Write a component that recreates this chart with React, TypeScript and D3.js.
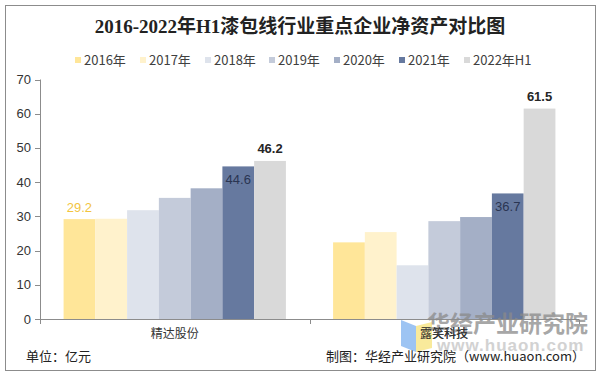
import React from "react";
import * as d3 from "d3";

const categories = ["精达股份", "露笑科技"];
const seriesNames = ["2016年", "2017年", "2018年", "2019年", "2020年", "2021年", "2022年H1"];
const jingda = [29.2, 29.3, 31.8, 35.4, 38.2, 44.6, 46.2];
const luxiao = [22.4, 25.4, 15.7, 28.6, 29.8, 36.7, 61.5];
const colors = ["#FFE699", "#FFF2CC", "#DEE3EC", "#C4CBDA", "#A4AFC6", "#66799F", "#D9D9D9"];
const yTicks = [0, 10, 20, 30, 40, 50, 60, 70];

// labels: [category index, series index, style]
const labels: [number, number, string][] = [
  [0, 0, "above-yellow"],
  [0, 5, "inside"],
  [0, 6, "above-bold"],
  [1, 5, "inside"],
  [1, 6, "above-bold"],
];

const W = 601;
const H = 375;
const sans = "'Liberation Sans', Arial, 'Noto Sans CJK SC', sans-serif";
const cjk = "'Noto Sans CJK SC', 'Liberation Sans', sans-serif";

export default function App() {
  const values = [jingda, luxiao];
  const x0 = d3
    .scaleBand<string>()
    .domain(categories)
    .range([40, 579])
    .paddingInner(0.175)
    .paddingOuter(0.0875);
  const x1 = d3.scaleBand<string>().domain(seriesNames).range([0, x0.bandwidth()]);
  const y = d3.scaleLinear().domain([0, 70]).range([319, 79.5]);

  const legendX = [78, 143, 208, 272, 337, 402, 467];

  return (
    <svg width={W} height={H} style={{ position: "absolute", left: 0, top: 0, background: "#fff" }}>
      <rect x={5.5} y={5.5} width={590} height={365} fill="#fff" stroke="#8c8c8c" strokeWidth={1} />
      <text
        x={300}
        y={33}
        textAnchor="middle"
        fontFamily="'Liberation Serif', 'Noto Sans CJK SC', serif"
        fontWeight="bold"
        fontSize={19}
        fill="#222"
      >
        2016-2022年H1漆包线行业重点企业净资产对比图
      </text>

      {seriesNames.map((s, i) => (
        <g key={s}>
          <rect x={legendX[i] - 3} y={57} width={6} height={6} fill={colors[i]} />
          <text x={legendX[i] + 6} y={65} fontFamily={cjk} fontSize={13} fill="#404040">
            {s}
          </text>
        </g>
      ))}

      {/* y axis */}
      <line x1={40.5} x2={40.5} y1={y(70)} y2={y(0)} stroke="#8c8c8c" />
      {yTicks.map((t) => (
        <g key={t}>
          <line x1={35} x2={40.5} y1={Math.round(y(t)) + 0.5} y2={Math.round(y(t)) + 0.5} stroke="#8c8c8c" />
          <text
            x={31}
            y={y(t) + 4.5}
            textAnchor="end"
            fontFamily={sans}
            fontSize={13}
            fill="#333"
          >
            {t}
          </text>
        </g>
      ))}

      {/* bars */}
      {categories.map((c, ci) => (
        <g key={c} transform={`translate(${x0(c)},0)`}>
          {values[ci].map((v, si) => (
            <rect
              key={si}
              x={x1(seriesNames[si])}
              y={y(v)}
              width={x1.bandwidth()}
              height={y(0) - y(v)}
              fill={colors[si]}
            />
          ))}
        </g>
      ))}

      {/* x axis */}
      <line x1={40} x2={579} y1={319.5} y2={319.5} stroke="#8c8c8c" />
      {[40, 309.5, 579].map((t, i) => (
        <line key={i} x1={Math.round(t) + 0.5} x2={Math.round(t) + 0.5} y1={319.5} y2={324} stroke="#8c8c8c" />
      ))}
      {categories.map((c) => (
        <text
          key={c}
          x={(x0(c) as number) + x0.bandwidth() / 2}
          y={338}
          textAnchor="middle"
          fontFamily={cjk}
          fontSize={12}
          fill="#333"
        >
          {c}
        </text>
      ))}

      {/* data labels */}
      {labels.map(([ci, si, style], k) => {
        const v = values[ci][si];
        const cx = (x0(categories[ci]) as number) + (x1(seriesNames[si]) as number) + x1.bandwidth() / 2;
        if (style === "inside") {
          return (
            <text key={k} x={cx} y={y(v) + 18} textAnchor="middle" fontFamily={sans} fontSize={13} fill="#2A3552">
              {v.toFixed(1)}
            </text>
          );
        }
        if (style === "above-yellow") {
          return (
            <text key={k} x={cx} y={y(v) - 7} textAnchor="middle" fontFamily={sans} fontSize={13} fill="#F2C43F">
              {v.toFixed(1)}
            </text>
          );
        }
        return (
          <text
            key={k}
            x={cx}
            y={y(v) - 8}
            textAnchor="middle"
            fontFamily={sans}
            fontSize={13}
            fontWeight="bold"
            fill="#262626"
          >
            {v.toFixed(1)}
          </text>
        );
      })}

      {/* watermark */}
      <g opacity={0.75}>
        <polygon points="401,320 416,326 416,352 401,346" fill="#7DB1F0" />
        <polygon points="416,326 432,322 432,348 416,352" fill="#F8E37A" />
      </g>
      <text x={427} y={332} fontFamily={cjk} fontWeight="bold" fontSize={23} fill="#8a8a8a" opacity={0.75}>
        华经产业研究院
      </text>
      <text x={437} y={351} fontFamily={sans} fontWeight="bold" fontSize={17} fill="#c8c8c8" opacity={0.8} letterSpacing={1}>
        www.huaon.com
      </text>
      <text x={444} y={338} textAnchor="middle" fontFamily={cjk} fontSize={12} fill="#333">
        露笑科技
      </text>

      {/* footer */}
      <text x={26} y={361} fontFamily={cjk} fontSize={13} fill="#222">
        单位：亿元
      </text>
      <text x={585} y={361} textAnchor="end" fontFamily={cjk} fontSize={13} fill="#222">
        制图：华经产业研究院（www.huaon.com）
      </text>
    </svg>
  );
}
